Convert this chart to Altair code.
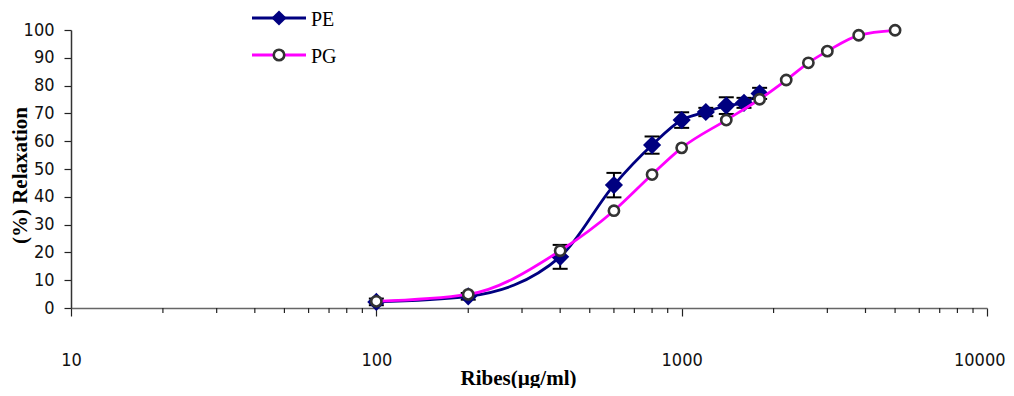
import altair as alt
import pandas as pd

# ---- data ----
pe_x = [100, 200, 400, 600, 800, 1000, 1200, 1400, 1600, 1800]
pe_y = [2.2, 4.2, 18.4, 44.2, 58.6, 67.6, 70.5, 72.8, 73.8, 77.2]
pe_err = [1.2, 1.2, 4.3, 4.4, 3.1, 2.8, 1.5, 3.0, 1.8, 2.0]

pg_x = [100, 200, 400, 600, 800, 1000, 1400, 1800, 2200, 2600, 3000, 3800, 5000]
pg_y = [2.4, 4.9, 20.6, 35.0, 48.0, 57.6, 67.6, 75.1, 82.0, 88.2, 92.4, 98.1, 99.9]

major_ticks = [10, 100, 1000, 10000]
minor_ticks = [m * d for d in (10, 100, 1000) for m in range(2, 10)]
y_ticks = [0, 10, 20, 30, 40, 50, 60, 70, 80, 90, 100]
series_names = ["PE", "PG"]
x_title = "Ribes(µg/ml)"
y_title = "(%) Relaxation"

# ---- styling ----
W, H = 916, 278
NAVY = "#000080"
MAGENTA = "#FF00FF"
NUM_FONT = "Liberation Sans Narrow, Arial Narrow, DejaVu Sans Condensed, sans-serif"
SERIF = "Liberation Serif, Times New Roman, serif"

pe = pd.DataFrame({
    "x": pe_x, "y": pe_y,
    "lo": [v - e for v, e in zip(pe_y, pe_err)],
    "hi": [v + e for v, e in zip(pe_y, pe_err)],
})
pg = pd.DataFrame({"x": pg_x, "y": pg_y})
minor = pd.DataFrame({"t": minor_ticks})
one = alt.Data(values=[{"k": 1}])

xs = alt.Scale(type="log", domain=[10, 10000], nice=False)
ys = alt.Scale(domain=[0, 100], nice=False, zero=True)

last_label = "datum.value >= 10000"
x_axis = alt.Axis(
    values=major_ticks, format="d", grid=False, labelOverlap=False,
    domainColor="#666666", domainWidth=1.5,
    tickColor="#222222", tickSize=8, tickWidth=1.2,
    labelFont=NUM_FONT, labelFontSize=18, labelColor="#111111",
    labelPadding=35, labelBaseline="top", labelFlush=False,
    labelAlign={"condition": {"test": last_label, "value": "right"}, "value": "center"},
    labelOffset={"condition": {"test": last_label, "value": 18}, "value": 0},
    title=x_title, titleFont=SERIF, titleFontSize=21, titleFontWeight="bold",
    titleColor="#000000", titleX=447, titleY=76, titleAnchor="middle",
    titleAlign="center", titleBaseline="alphabetic",
)
y_axis = alt.Axis(
    values=y_ticks, tickCount=11, grid=False, labelOverlap=False,
    domainColor="#333333", domainWidth=1.5,
    tickColor="#222222", tickSize=7, tickWidth=1.2,
    labelFont=NUM_FONT, labelFontSize=18, labelColor="#111111",
    labelPadding=10,
    title=y_title, titleFont=SERIF, titleFontSize=21, titleFontWeight="bold",
    titleColor="#000000", titleX=-51, titleY=145, titleAngle=270,
    titleAlign="center", titleBaseline="middle",
)


def X(field):
    return alt.X(field, scale=xs, axis=x_axis)


def Y(field):
    return alt.Y(field, scale=ys, axis=y_axis)


pe_line = alt.Chart(pe).mark_line(color=NAVY, strokeWidth=2.8, interpolate="monotone").encode(
    x=X("x:Q"), y=Y("y:Q"),
)
minor_layer = alt.Chart(minor).mark_rule(color="#222222", strokeWidth=1.2).encode(
    x=X("t:Q"), y=alt.value(H), y2=alt.value(H + 5),
)
err_rule = alt.Chart(pe).mark_rule(color="#000000", strokeWidth=2).encode(
    x=X("x:Q"), y=Y("lo:Q"), y2="hi:Q",
)
cap_lo = alt.Chart(pe).mark_tick(color="#000000", orient="horizontal", size=15, thickness=2, opacity=1).encode(
    x=X("x:Q"), y=Y("lo:Q"),
)
cap_hi = alt.Chart(pe).mark_tick(color="#000000", orient="horizontal", size=15, thickness=2, opacity=1).encode(
    x=X("x:Q"), y=Y("hi:Q"),
)
pe_pts = alt.Chart(pe).mark_point(shape="diamond", filled=True, size=330, color=NAVY, opacity=1).encode(
    x=X("x:Q"), y=Y("y:Q"),
)
pg_line = alt.Chart(pg).mark_line(color=MAGENTA, strokeWidth=2.8, interpolate="monotone").encode(
    x=X("x:Q"), y=Y("y:Q"),
)
pg_pts = alt.Chart(pg).mark_point(shape="circle", filled=True, fill="#FFFFFF", stroke="#333333",
                                  strokeWidth=2.6, size=105, opacity=1).encode(
    x=X("x:Q"), y=Y("y:Q"),
)

# ---- legend (line + marker + label) ----
leg_pe_line = alt.Chart(one).mark_rule(color=NAVY, strokeWidth=2.8).encode(
    x=alt.value(181), x2=alt.value(235), y=alt.value(-12))
leg_pe_pt = alt.Chart(one).mark_point(shape="diamond", filled=True, size=230, color=NAVY, opacity=1).encode(
    x=alt.value(208), y=alt.value(-12))
leg_pe_txt = alt.Chart(one).mark_text(align="left", baseline="middle", font=SERIF, fontSize=20, color="#000000").encode(
    x=alt.value(240), y=alt.value(-10), text=alt.value(series_names[0]))
leg_pg_line = alt.Chart(one).mark_rule(color=MAGENTA, strokeWidth=2.8).encode(
    x=alt.value(181), x2=alt.value(235), y=alt.value(25))
leg_pg_pt = alt.Chart(one).mark_point(shape="circle", filled=True, fill="#FFFFFF", stroke="#333333",
                                      strokeWidth=2.6, size=110, opacity=1).encode(
    x=alt.value(208), y=alt.value(25))
leg_pg_txt = alt.Chart(one).mark_text(align="left", baseline="middle", font=SERIF, fontSize=20, color="#000000").encode(
    x=alt.value(240), y=alt.value(27), text=alt.value(series_names[1]))

chart = alt.layer(
    pe_line, minor_layer, err_rule, cap_lo, cap_hi, pe_pts, pg_line, pg_pts,
    leg_pe_line, leg_pe_pt, leg_pe_txt, leg_pg_line, leg_pg_pt, leg_pg_txt,
).properties(
    width=W, height=H,
    padding={"left": 63, "top": 22, "right": 19, "bottom": 80},
    autosize=alt.AutoSizeParams(type="none"),
    background="#FFFFFF",
).configure_view(stroke=None)

chart.save("out.html", embed_options={"renderer": "svg", "actions": False})
